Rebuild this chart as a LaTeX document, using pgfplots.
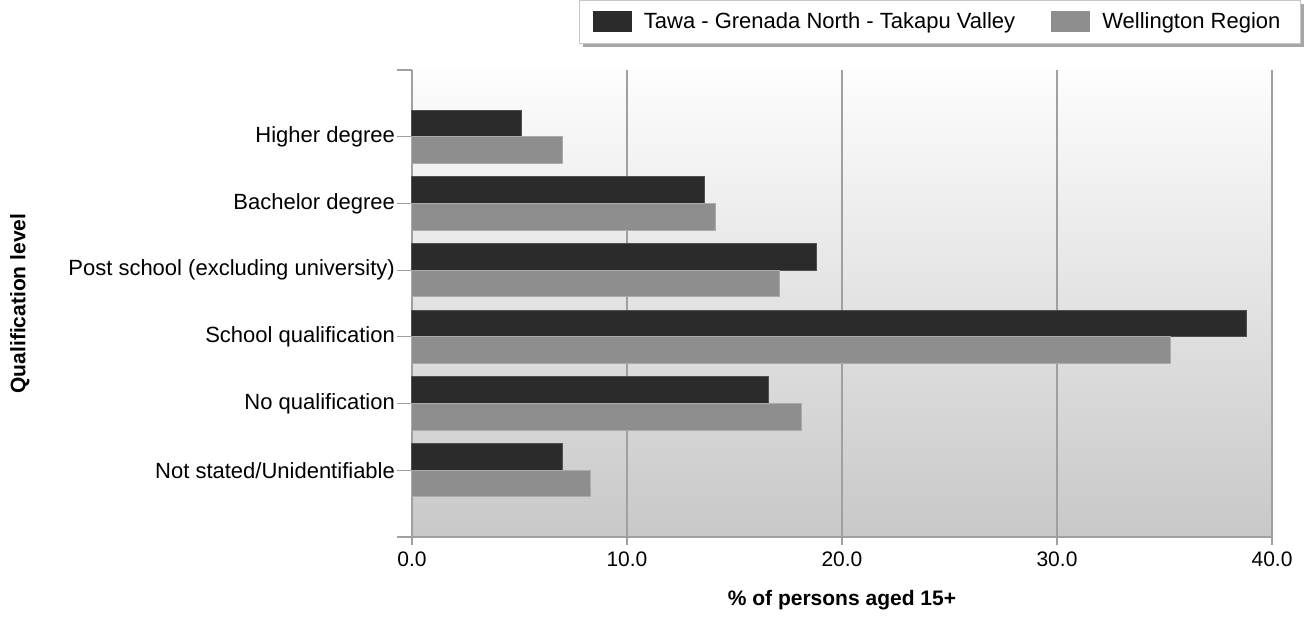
\documentclass[border=0pt]{standalone}
\usepackage{pgfplots}
\pgfplotsset{compat=1.18}
\usepackage{fontspec}
\setmainfont{Liberation Sans}
\usetikzlibrary{shadows}
\definecolor{darkbar}{HTML}{2B2B2B}
\definecolor{darkedge}{HTML}{505050}
\definecolor{lightbar}{HTML}{8E8E8E}
\definecolor{lightedge}{HTML}{ABABAB}
\definecolor{gridc}{HTML}{A0A0A0}
\definecolor{bgbottom}{HTML}{C8C8C8}
\definecolor{bgtop}{HTML}{FDFDFD}
\begin{document}
\begin{tikzpicture}
\begin{axis}[
  scale only axis, width=430pt, height=233.5pt,
  xmin=0, xmax=40, ymin=-1, ymax=6,
  clip=false,
  axis x line*=bottom, axis y line*=left,
  axis line style={draw=gridc, line width=0.6pt},
  axis background/.style={top color=bgtop, bottom color=bgbottom},
  tick align=outside,
  major tick length=7.5pt,
  tick style={draw=gridc, line width=0.6pt},
  xtick=\empty,
  extra x ticks={0,10,20,30,40},
  extra tick style={major tick length=4pt, grid=major},
  xmajorgrids,
  major grid style={draw=gridc, line width=0.7pt},
  extra x tick style={xticklabel style={/pgf/number format/fixed, /pgf/number format/fixed zerofill, /pgf/number format/precision=1}},
  /pgf/number format/assume math mode=true,
  ytick={-1,0,1,2,3,4,5,6},
  yticklabels={,Not stated/Unidentifiable,No qualification,School qualification,Post school (excluding university),Bachelor degree,Higher degree,},
  tick label style={font=\fontsize{11}{13}\selectfont, text=black},
  yticklabel style={xshift=2.5pt},
  xticklabel style={font=\fontsize{10.5}{12}\selectfont},
  xlabel={\% of persons aged 15+},
  ylabel={Qualification level},
  every axis x label/.style={at={(rel axis cs:0.5,-0.135)}, anchor=center, font=\bfseries\fontsize{10.5}{12}\selectfont},
  every axis y label/.style={at={(rel axis cs:-0.456,0.5)}, anchor=center, rotate=90, font=\bfseries\fontsize{10.5}{12}\selectfont},
  legend columns=2,
  legend cell align=left,
  legend style={at={(rel axis cs:1.0335,1.1499)}, anchor=north east,
    draw=gray!45, fill=white,
    drop shadow={shadow xshift=2pt, shadow yshift=-2pt, opacity=0.7, fill=gray},
    font=\fontsize{11}{13}\selectfont,
    inner xsep=7pt, inner ysep=4pt,
    /tikz/column sep=4pt,
    /tikz/every even column/.append style={column sep=16pt}},
]
\addplot[xbar, bar width=0.4, bar shift=0.2, fill=darkbar, draw=darkedge, line width=0.5pt,
  legend image code/.code={\pgfsetfillcolor{darkbar}\pgfsetstrokecolor{darkbar}\pgfpathrectangle{\pgfpoint{0pt}{-5pt}}{\pgfpoint{19pt}{10pt}}\pgfusepath{fill,stroke}}]
  coordinates {(7.0,0) (16.6,1) (38.8,2) (18.8,3) (13.6,4) (5.1,5)};
\addlegendentry{Tawa - Grenada North - Takapu Valley}
\addplot[xbar, bar width=0.4, bar shift=-0.2, fill=lightbar, draw=lightedge, line width=0.5pt,
  legend image code/.code={\pgfsetfillcolor{lightbar}\pgfsetstrokecolor{lightbar}\pgfpathrectangle{\pgfpoint{0pt}{-5pt}}{\pgfpoint{19pt}{10pt}}\pgfusepath{fill,stroke}}]
  coordinates {(8.3,0) (18.1,1) (35.3,2) (17.1,3) (14.1,4) (7.0,5)};
\addlegendentry{Wellington Region\kern1pt\null}
\path (rel axis cs:-0.479,-0.1649) rectangle (rel axis cs:1.0465,1.1499);
\end{axis}
\end{tikzpicture}
\end{document}
